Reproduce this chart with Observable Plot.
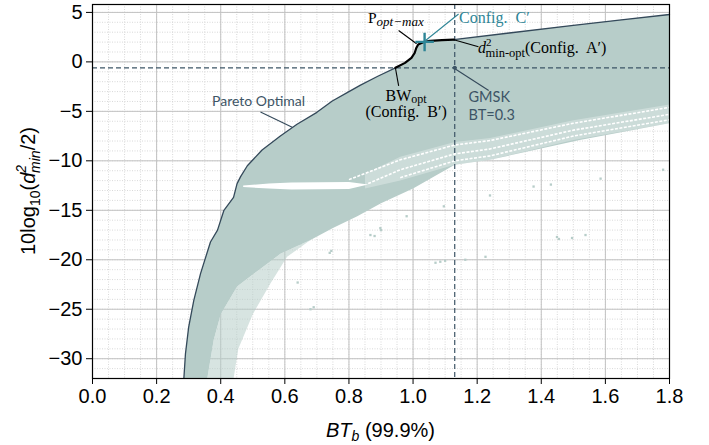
<!DOCTYPE html>
<html><head><meta charset="utf-8">
<script src="https://cdn.jsdelivr.net/npm/d3@7"></script>
<script src="https://cdn.jsdelivr.net/npm/@observablehq/plot@0.6"></script>
<style>body{margin:0;background:#fff;}</style>
</head><body><div id="chart"></div>
<script>
// ---- data ----
const paretoX = [0.285,0.290,0.300,0.316,0.337,0.368,0.39,0.41,0.44,0.451,0.462,0.483,0.529,0.586,0.638,0.70,0.748,0.80,0.836,0.89,0.945];
const paretoY = [-32,-29.5,-26.8,-24.1,-21.4,-18.2,-17.0,-15.0,-13.7,-12.3,-11.6,-10.5,-8.9,-7.5,-6.3,-5.1,-3.95,-3.0,-2.35,-1.45,-0.6];
const optX = [0.945,0.975,0.995,1.005,1.010,1.016,1.028,1.036,1.054,1.09,1.127];
const optY = [-0.6,-0.1,0.4,0.9,1.4,1.75,1.93,2.02,2.12,2.19,2.24];
const upperX = [1.127,1.3,1.5,1.65,1.8];
const upperY = [2.24,2.92,3.7,4.25,4.79];
// lower boundary of the dense cloud (right to left)
const lowerX = [1.8,1.52,1.24,1.13,1.0,0.9,0.826,0.75,0.68,0.586,0.52,0.451,0.40,0.378,0.358];
const lowerY = [-6.2,-7.9,-9.9,-10.4,-12.8,-14.3,-15.6,-16.8,-18.0,-19.4,-21.0,-22.7,-25.5,-28.1,-32];
// sparse fringe (lower-left)
const fringeX = [0.68,0.607,0.555,0.50,0.455,0.44,0.358,0.378,0.40,0.451,0.52,0.586];
const fringeY = [-18.0,-19.7,-22.4,-25.5,-29,-32,-32,-28.1,-25.5,-22.7,-21.0,-19.4];
// white horizontal gap
const gapX = [0.47,0.55,0.62,0.80,0.86,0.80,0.62,0.55,0.47];
const gapY = [-12.5,-12.3,-12.2,-12.15,-12.4,-12.85,-12.9,-12.8,-12.65];
// lighter striped band (top edge left->right, bottom edge right->left)
const bandX = [0.85,0.96,1.13,1.24,1.5,1.8,1.8,1.5,1.24,1.13,0.96,0.85];
const bandY = [-11.3,-9.6,-8.1,-7.7,-5.9,-4.3,-6.2,-7.9,-9.9,-10.4,-12.0,-12.8];
// white stripes in the band
const stripe1X = [0.80,0.96,1.13,1.24,1.5,1.8];
const stripe1Y = [-11.9,-9.9,-8.4,-7.95,-6.2,-4.6];
const stripe2X = [0.86,0.96,1.13,1.24,1.5,1.8];
const stripe2Y = [-12.3,-10.9,-9.3,-8.8,-6.9,-5.3];
const stripe3X = [0.96,1.13,1.24,1.5,1.8];
const stripe3Y = [-11.7,-10.0,-9.5,-7.5,-5.85];
// isolated points
const outX = [0.64,0.68,0.69,0.74,0.745,0.867,0.88,0.898,0.90,1.07,1.085,1.10,1.163,1.226,1.449,1.455,1.496,1.538,0.98,1.096,1.24,1.376,1.43,1.585,1.78];
const outY = [-22.3,-25.0,-24.8,-19.3,-19.1,-17.5,-17.6,-16.8,-17.0,-20.3,-20.2,-20.1,-20.0,-19.7,-17.7,-17.9,-17.8,-17.5,-15.6,-14.6,-13.5,-12.6,-12.4,-11.8,-10.9];
const xTicks = [0,0.2,0.4,0.6,0.8,1.0,1.2,1.4,1.6,1.8];
const yTicks = [-30,-25,-20,-15,-10,-5,0,5];
const gmskBT = 1.13, gmskD = -0.6;
const configC = {x:1.036, y:2.02};

// ---- tables ----
const zip = (xs, ys) => xs.map((x,i)=>({x, y: ys[i]}));
const pareto = zip(paretoX, paretoY);
const opt = zip(optX, optY);
const upper = zip(upperX, upperY);
const cloud = [...pareto, ...opt, ...upper, ...zip(lowerX, lowerY)];
const fringe = zip(fringeX, fringeY);
const gap = zip(gapX, gapY);
const band = zip(bandX, bandY);
const stripes = [
  ...zip(stripe1X, stripe1Y).map(d=>({...d,k:1})),
  ...zip(stripe2X, stripe2Y).map(d=>({...d,k:2})),
  ...zip(stripe3X, stripe3Y).map(d=>({...d,k:3}))
];
const outliers = zip(outX, outY);
const xMinor = d3.range(0, 1.8001, 0.05);
const yMinor = d3.range(-32, 6, 1);

const slate = "#34495a", cloudC = "#b7cdc9", teal = "#2e8596", annC = "#3d5566";

const leaders = [
  {x1:0.524,y1:-5.07,x2:0.623,y2:-6.6,c:slate},
  {x1:0.955,y1:3.17,x2:1.011,y2:1.83,c:"black"},
  {x1:1.142,y1:4.84,x2:1.039,y2:2.16,c:teal},
  {x1:1.127,y1:2.23,x2:1.204,y2:1.53,c:"black"},
  {x1:0.945,y1:-0.62,x2:0.955,y2:-2.43,c:"black"},
  {x1:1.127,y1:-0.62,x2:1.236,y2:-2.89,c:slate}
];

const plot = Plot.plot({
  width: 709, height: 445,
  marginLeft: 92, marginRight: 40, marginTop: 4, marginBottom: 67,
  style: {fontSize: "20px", fontFamily: "'Liberation Sans', Arial, sans-serif", color: "black", background: "white"},
  x: {domain: [0, 1.8]},
  y: {domain: [-32, 5.8]},
  marks: [
    Plot.ruleX(xMinor, {stroke: "#cfcfcf", strokeWidth: 0.8, strokeDasharray: "1,1.5"}),
    Plot.ruleY(yMinor, {stroke: "#cfcfcf", strokeWidth: 0.8, strokeDasharray: "1,1.5"}),
    Plot.ruleX(xTicks, {stroke: "#c2c2c2", strokeWidth: 1}),
    Plot.ruleY(yTicks, {stroke: "#c2c2c2", strokeWidth: 1}),
    Plot.line(cloud, {x: "x", y: "y", fill: cloudC, stroke: "none", clip: true}),
    Plot.line(fringe, {x: "x", y: "y", fill: cloudC, fillOpacity: 0.55, stroke: "none", clip: true}),
    Plot.line(gap, {x: "x", y: "y", fill: "white", stroke: "none"}),
    Plot.line(band, {x: "x", y: "y", fill: "white", fillOpacity: 0.3, stroke: "none"}),
    Plot.line(stripes, {x: "x", y: "y", z: "k", stroke: "white", strokeWidth: 1.6, strokeDasharray: "3,1.5", strokeLinecap: "butt"}),
    Plot.dot(outliers, {x: "x", y: "y", symbol: "square", r: 1.3, fill: cloudC, stroke: "none"}),
    Plot.ruleY([gmskD], {stroke: annC, strokeWidth: 1.2, strokeDasharray: "5,3"}),
    Plot.ruleX([gmskBT], {stroke: annC, strokeWidth: 1.2, strokeDasharray: "5,3"}),
    Plot.line(pareto, {x: "x", y: "y", stroke: slate, strokeWidth: 1.3, clip: true}),
    Plot.line(upper, {x: "x", y: "y", stroke: slate, strokeWidth: 1.3}),
    Plot.line(opt, {x: "x", y: "y", stroke: "black", strokeWidth: 2.2}),
    Plot.link(leaders, {x1: "x1", y1: "y1", x2: "x2", y2: "y2", stroke: "c", strokeWidth: 1.1}),
    Plot.dot([{x: gmskBT, y: gmskD}], {x: "x", y: "y", r: 2, fill: annC}),
    Plot.dot([configC], {x: "x", y: "y", symbol: "plus", r: 6, stroke: teal, strokeWidth: 2.4}),
    Plot.text(["Pareto Optimal"], {x: 0.518, y: -4.41, text: d => d, fontFamily: "Lato", fontSize: 14, fill: annC, textAnchor: "middle", lineAnchor: "bottom"}),
    Plot.text(["GMSK"], {x: 1.173, y: -4.06, text: d => d, fontFamily: "Lato", fontSize: 14.5, fill: annC, textAnchor: "start", lineAnchor: "bottom"}),
    Plot.text(["BT=0.3"], {x: 1.173, y: -5.83, text: d => d, fontFamily: "Lato", fontSize: 14.5, fill: annC, textAnchor: "start", lineAnchor: "bottom"}),
    Plot.frame({stroke: "black", strokeWidth: 1.2}),
    Plot.axisX(xTicks, {tickSize: 6, tickPadding: 4, tickFormat: d => d.toFixed(1), label: null}),
    Plot.axisY(yTicks, {tickSize: 6, tickPadding: 4, label: null})
  ]
});
document.getElementById("chart").appendChild(plot);

// ---- rich text labels placed through the scales ----
const svg = d3.select(plot);
const sx = plot.scale("x"), sy = plot.scale("y");
const X = v => sx.apply(v), Y = v => sy.apply(v);
const serif = "'Liberation Serif', 'Times New Roman', serif";
const sans = "'Liberation Sans', Arial, sans-serif";

// y-axis label
const yl = svg.append("text").attr("transform", `translate(35,${(4+378)/2}) rotate(-90)`)
  .attr("text-anchor", "middle").attr("font-family", sans).attr("font-size", 20).attr("fill", "black");
yl.append("tspan").text("10log");
yl.append("tspan").attr("font-size", 14).attr("dy", 5).text("10");
yl.append("tspan").attr("dy", -5).text("(");
yl.append("tspan").attr("font-style", "italic").text("d");
yl.append("tspan").attr("font-size", 14).attr("font-style", "italic").attr("dy", -9).text("2");
yl.append("tspan").attr("font-size", 14).attr("font-style", "italic").attr("dx", -8).attr("dy", 14).text("min");
yl.append("tspan").attr("dy", -5).text("/2)");

// x-axis label
const xl = svg.append("text").attr("x", (92+669)/2).attr("y", 437)
  .attr("text-anchor", "middle").attr("font-family", sans).attr("font-size", 20).attr("fill", "black");
xl.append("tspan").attr("font-style", "italic").text("BT");
xl.append("tspan").attr("font-style", "italic").attr("font-size", 14).attr("dy", 4).text("b");
xl.append("tspan").attr("dy", -4).text(" (99.9%)");

// P_opt-max
const tp = svg.append("text").attr("x", X(0.861)).attr("y", Y(3.85)).attr("text-anchor", "start")
  .attr("font-family", serif).attr("font-size", 15.5).attr("fill", "black");
tp.append("tspan").text("P");
tp.append("tspan").attr("font-size", 13).attr("font-style", "italic").attr("dy", 3).text("opt\u2212max");

// Config. C'
svg.append("text").attr("x", X(1.145)).attr("y", Y(3.88)).attr("text-anchor", "start")
  .attr("font-family", serif).attr("font-size", 16).attr("fill", teal).text("Config.\u00A0 C\u2032");

// d^2_min-opt (Config. A')
const ta = svg.append("text").attr("x", X(1.204)).attr("y", Y(0.85)).attr("text-anchor", "start")
  .attr("font-family", serif).attr("font-size", 16).attr("fill", "black");
ta.append("tspan").attr("font-style", "italic").text("d");
ta.append("tspan").attr("font-size", 11).attr("dy", -7).text("2");
ta.append("tspan").attr("font-size", 12.5).attr("dx", -6).attr("dy", 11).text("min-opt");
ta.append("tspan").attr("dy", -4).text("(Config.\u00A0 A\u2032)");

// BW_opt (Config. B')
const tb = svg.append("text").attr("x", X(0.98)).attr("y", Y(-4.0)).attr("text-anchor", "middle")
  .attr("font-family", serif).attr("font-size", 16).attr("fill", "black");
tb.append("tspan").text("BW");
tb.append("tspan").attr("font-size", 12).attr("dy", 2.5).text("opt");
svg.append("text").attr("x", X(0.98)).attr("y", Y(-5.6)).attr("text-anchor", "middle")
  .attr("font-family", serif).attr("font-size", 16).attr("fill", "black").text("(Config.\u00A0 B\u2032)");
</script>
</body></html>
